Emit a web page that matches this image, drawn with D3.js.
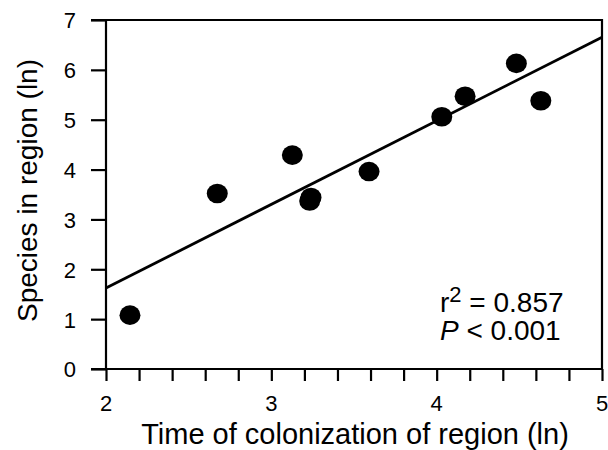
<!DOCTYPE html>
<html>
<head>
<meta charset="utf-8">
<script src="https://cdn.jsdelivr.net/npm/d3@7"></script>
<style>
  body { margin: 0; background: #fff; }
  text { font-family: "Liberation Sans", Arial, sans-serif; fill: #000; }
</style>
</head>
<body>
<div id="chart"></div>
<script>
// Time of colonization (ln) vs species in region (ln)
const colonTime = [2.145, 2.673, 3.127, 3.240, 3.232, 3.591, 4.031, 4.172, 4.482, 4.630];
const species   = [1.08, 3.52, 4.29, 3.44, 3.37, 3.96, 5.06, 5.47, 6.13, 5.38];
const fitLine = { intercept: -1.73, slope: 1.677 };
const xTicks = [2, 3, 4, 5];
const xMinorTicks = d3.range(2, 5.001, 0.2);
const yTicks = [0, 1, 2, 3, 4, 5, 6, 7];
const stats = { r2: "0.857", p: "0.001" };

const width = 608, height = 450;
const margin = { top: 20, right: 6, bottom: 81, left: 106 };

const svg = d3.select("#chart").append("svg")
  .attr("width", width)
  .attr("height", height);

const x = d3.scaleLinear().domain([2, 5]).range([margin.left, width - margin.right]);
const y = d3.scaleLinear().domain([0, 7]).range([height - margin.bottom, margin.top]);

// frame: top and right edges
svg.append("path")
  .attr("d", `M${x(2) - 15},${y(7)}H${x(5)}V${y(0)}`)
  .attr("fill", "none")
  .attr("stroke", "#000")
  .attr("stroke-width", 2.2);

// x axis with minor ticks
const xAxis = svg.append("g")
  .attr("transform", `translate(0,${y(0)})`)
  .call(d3.axisBottom(x).tickValues(xMinorTicks).tickSize(12).tickFormat(""));
xAxis.select(".domain").attr("d", `M${x(2) - 15},0H${x(5)}`);
xAxis.selectAll("line, path").attr("stroke-width", 2.2);

xAxis.selectAll(".major")
  .data(xTicks)
  .join("text")
  .attr("class", "major")
  .attr("x", d => x(d))
  .attr("y", 42)
  .attr("text-anchor", "middle")
  .style("font-size", "22px")
  .text(d => d);

// y axis
const yAxis = svg.append("g")
  .attr("transform", `translate(${x(2)},0)`)
  .call(d3.axisLeft(y).tickValues(yTicks).tickSize(15).tickPadding(15).tickFormat(d3.format("d")));
yAxis.selectAll("line, path").attr("stroke-width", 2.2);
yAxis.select(".domain").attr("d", `M0,${y(7)}V${y(0)}`);
yAxis.selectAll("text").style("font-size", "22px").attr("dy", "0.36em");

// axis titles
svg.append("text")
  .attr("x", (x(2) + x(5)) / 2 + 1)
  .attr("y", 444)
  .attr("text-anchor", "middle")
  .style("font-size", "29px")
  .text("Time of colonization of region (ln)");

svg.append("text")
  .attr("transform", `translate(37,${(y(0) + y(7)) / 2 - 4}) rotate(-90)`)
  .attr("text-anchor", "middle")
  .style("font-size", "28px")
  .text("Species in region (ln)");

// regression line
svg.append("line")
  .attr("x1", x(2))
  .attr("y1", y(fitLine.intercept + fitLine.slope * 2))
  .attr("x2", x(5))
  .attr("y2", y(fitLine.intercept + fitLine.slope * 5))
  .attr("stroke", "#000")
  .attr("stroke-width", 2.8);

// points
svg.selectAll(".pt")
  .data(colonTime.map((t, i) => [t, species[i]]))
  .join("ellipse")
  .attr("class", "pt")
  .attr("cx", d => x(d[0]))
  .attr("cy", d => y(d[1]))
  .attr("rx", 10.5)
  .attr("ry", 9.8)
  .attr("fill", "#000");

// stats annotation
const ann = svg.append("text")
  .attr("x", x(4.02))
  .attr("y", 312)
  .style("font-size", "28px");
ann.append("tspan").text("r");
ann.append("tspan").attr("dy", -10).style("font-size", "22px").text("2");
ann.append("tspan").attr("dy", 10).text(" = " + stats.r2);

const ann2 = svg.append("text")
  .attr("x", x(4.02))
  .attr("y", 340)
  .style("font-size", "28px");
ann2.append("tspan").style("font-style", "italic").text("P");
ann2.append("tspan").text(" < " + stats.p);
</script>
</body>
</html>
